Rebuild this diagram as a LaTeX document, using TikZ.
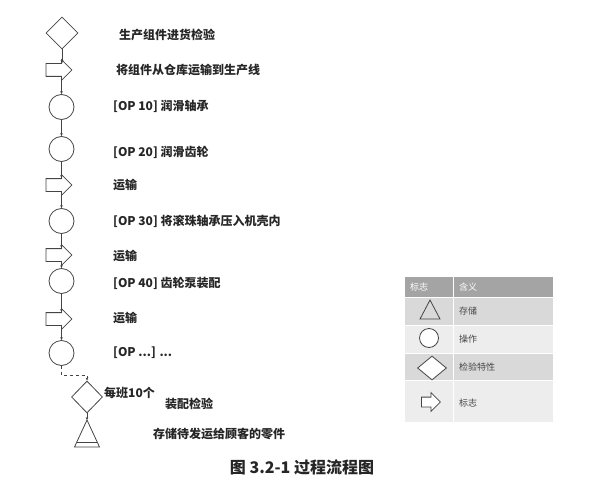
\documentclass[tikz,border=0pt]{standalone}
\usepackage{fontspec}
\setmainfont{Noto Sans CJK SC}
\usetikzlibrary{shapes.geometric,shapes.arrows,arrows.meta,calc}

\definecolor{linegray}{HTML}{444444}
\definecolor{txtgray}{HTML}{262626}
\definecolor{headgray}{HTML}{A4A4A4}
\definecolor{rowdark}{HTML}{D9D9D9}
\definecolor{rowlight}{HTML}{EDEDED}

\tikzset{
  flowline/.style={draw=linegray, line width=0.5pt, -{Stealth[length=3pt,width=2.6pt]}},
  symline/.style={draw=linegray, line width=0.8pt},
  opcircle/.style={circle, symline, minimum size=25pt, inner sep=0pt},
  checkbox/.style={diamond, symline, inner sep=0pt},
  transport/.style={single arrow, symline, inner sep=0pt, inner ysep=6pt,
    minimum height=26pt, minimum width=20pt, single arrow head extend=4pt, anchor=tail},
  flowtext/.style={anchor=west, text=txtgray, inner sep=0pt,
    font=\fontsize{12}{14}\selectfont\bfseries},
  legtext/.style={anchor=west, inner sep=0pt, font=\fontsize{9}{11}\selectfont}
}

\begin{document}
\begin{tikzpicture}[x=1pt,y=-1pt]
            \useasboundingbox (0,0) rectangle (604,484);

            % flow symbols
            \node[checkbox, minimum width=32pt, minimum height=32pt] (d1) at (62,33) {};
            \node[transport] (t0) at (45.5,70) {};
            \node[opcircle] (c1) at (61.5,107) {};
            \node[opcircle] (c2) at (61.5,149) {};
            \node[transport] (t1) at (45.5,185) {};
            \node[opcircle] (c3) at (61.5,221) {};
            \node[transport] (t2) at (45.5,255) {};
            \node[opcircle] (c4) at (61.5,281) {};
            \node[transport] (t3) at (45.5,319) {};
            \node[opcircle] (c5) at (61.5,353) {};
            \node[checkbox, minimum width=31pt, minimum height=32pt] (d2) at (87,397) {};
            \coordinate (tri) at (87,420);
            \draw[symline] (tri) -- ++(12.5,27) coordinate (trir) -- ++(-25,0) coordinate (tril) -- cycle;
            \draw[symline] ($(tril)!0.17!(tri)$) -- ($(trir)!0.17!(tri)$);

            % connectors
            \draw[flowline] (d1.south) -- (d1.south |- t0.before head);
            \draw[flowline] (c1.north |- t0.after head) -- (c1.north);
            \draw[flowline] (c1.south) -- (c2.north);
            \draw[flowline] (c2.south) -- (c2.south |- t1.before head);
            \draw[flowline] (c3.north |- t1.after head) -- (c3.north);
            \draw[flowline] (c3.south) -- (c3.south |- t2.before head);
            \draw[flowline] (c4.north |- t2.after head) -- (c4.north);
            \draw[flowline] (c4.south) -- (c4.south |- t3.before head);
            \draw[flowline] (c5.north |- t3.after head) -- (c5.north);
            \coordinate (bend) at (87,375);
            \draw[flowline, dashed] (c5.south) |- (bend) -- (d2.north);
            \draw[flowline] (d2.south) -- (tri);

            % labels
            \node[flowtext] (l0) at (119,35) {生产组件进货检验};
            \node[flowtext] (l1) at (116,70) {将组件从仓库运输到生产线};
            \node[flowtext] (l2) at (113,106) {[OP 10] 润滑轴承};
            \node[flowtext] (l3) at (113,152) {[OP 20] 润滑齿轮};
            \node[flowtext] (l4) at (113,185) {运输};
            \node[flowtext] (l5) at (113,221) {[OP 30] 将滚珠轴承压入机壳内};
            \node[flowtext] (l6) at (113,256) {运输};
            \node[flowtext] (l7) at (113,283) {[OP 40] 齿轮泵装配};
            \node[flowtext] (l8) at (113,318) {运输};
            \node[flowtext] (l9) at (113,353) {[OP ...] ...};
            \node[flowtext] (l10) at (104,393) {每班10个};
            \node[flowtext] (l11) at (165,404) {装配检验};
            \node[flowtext] (l12) at (153,434) {存储待发运给顾客的零件};
            \node[text=txtgray, font=\fontsize{16}{18}\selectfont\bfseries] (cap) at (302,467) {图 3.2-1 过程流程图};

            % legend table
            \fill[headgray] (405,277) rectangle (553,297);
            \fill[rowdark] (405,297) rectangle (553,325);
            \fill[rowlight] (405,325) rectangle (553,353);
            \fill[rowdark] (405,353) rectangle (553,380);
            \fill[rowlight] (405,380) rectangle (553,422);
            \draw[white, line width=1pt] (453,277) -- (453,422);
            \draw[white, line width=0.8pt] (405,297) -- (553,297);
            \draw[white, line width=0.8pt] (405,325) -- (553,325);
            \draw[white, line width=0.8pt] (405,353) -- (553,353);
            \draw[white, line width=0.8pt] (405,380) -- (553,380);
            \node[legtext, text=white] (h1) at (410,287) {标志};
            \node[legtext, text=white] (h2) at (459,287) {含义};

            \coordinate (lgtri) at (430,300);
            \draw[symline] (lgtri) -- ++(10,19) -- ++(-20,0) -- cycle;
            \node[opcircle, minimum size=19pt, fill=white] (lgcirc) at (429,338) {};
            \node[checkbox, minimum width=29pt, minimum height=24pt, fill=white] (lgdia) at (432,368) {};
            \node[transport, fill=white, minimum height=19pt, minimum width=18pt, inner ysep=4.5pt,
              single arrow head extend=4.5pt] (lgarr) at (421,402) {};

            \node[legtext, text=gray!55!black] (g1) at (459,311) {存储};
            \node[legtext, text=gray!55!black] (g2) at (459,339) {操作};
            \node[legtext, text=gray!55!black] (g3) at (459,367) {检验特性};
            \node[legtext, text=gray!55!black] (g4) at (459,403) {标志};

\end{tikzpicture}
\end{document}
